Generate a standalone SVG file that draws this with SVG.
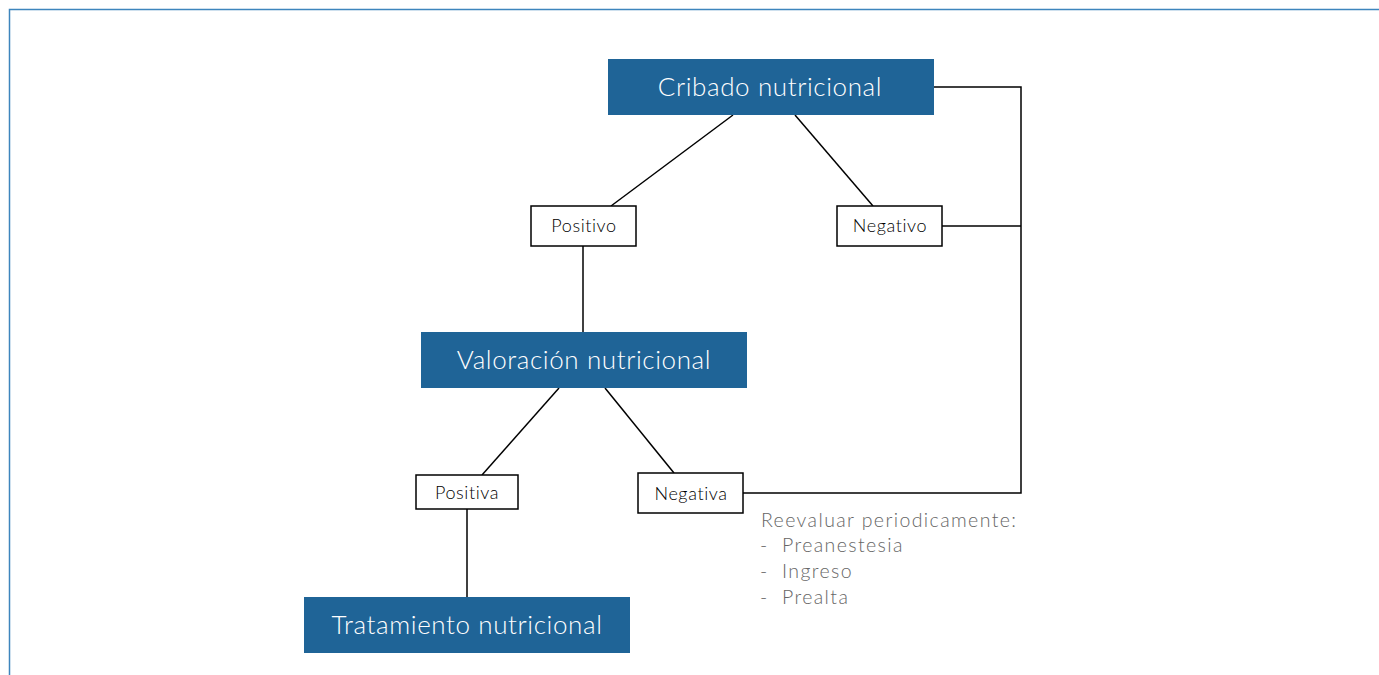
<svg xmlns="http://www.w3.org/2000/svg" width="1379" height="675" viewBox="0 0 1379 675">
<style>
.main rect{fill:#1f6497}
.main text{fill:#fff;font-family:Lato,"Open Sans",sans-serif;font-weight:300;font-size:26px;letter-spacing:0.6px;text-anchor:middle}
.lab rect{fill:#fff;stroke:#000;stroke-width:1.5}
.lab text{fill:#000;font-family:Lato,"Open Sans",sans-serif;font-weight:300;font-size:18px;letter-spacing:0.6px;text-anchor:middle}
.conn{stroke:#000;stroke-width:1.5;fill:none}
.note{fill:#666;font-family:Lato,"Open Sans",sans-serif;font-weight:300;font-size:19.5px;letter-spacing:1.4px}
</style>
<rect width="1379" height="675" fill="#fff"/>
<path d="M9.5,675 V9.5 H1379" fill="none" stroke="#3d85bd" stroke-width="1.5"/>
<g id="connectors" class="conn">
<line x1="733" y1="115" x2="611" y2="206"/>
<line x1="795" y1="115" x2="873" y2="206"/>
<line x1="583" y1="246" x2="583" y2="332"/>
<line x1="559" y1="388" x2="482" y2="475"/>
<line x1="605" y1="388" x2="674" y2="473"/>
<line x1="467" y1="509" x2="467" y2="597"/>
<polyline points="934,87 1021,87 1021,493 743,493"/>
<line x1="942" y1="226" x2="1021" y2="226"/>
</g>
<g id="cribado" class="main"><rect x="608" y="59" width="326" height="56"/><text x="770" y="96">Cribado nutricional</text></g>
<g id="positivo" class="lab"><rect x="531" y="206" width="105" height="40"/><text x="584" y="232">Positivo</text></g>
<g id="negativo" class="lab"><rect x="837" y="206" width="105" height="40"/><text x="890" y="232">Negativo</text></g>
<g id="valoracion" class="main"><rect x="421" y="332" width="326" height="56"/><text x="584" y="369">Valoración nutricional</text></g>
<g id="positiva" class="lab"><rect x="416" y="475" width="102" height="34"/><text x="467" y="499">Positiva</text></g>
<g id="negativa" class="lab"><rect x="638" y="473" width="105" height="40"/><text x="691" y="500">Negativa</text></g>
<g id="tratamiento" class="main"><rect x="304" y="597" width="326" height="56"/><text x="467" y="634">Tratamiento nutricional</text></g>
<g id="nota" class="note">
<text x="761" y="527">Reevaluar periodicamente:</text>
<text x="760" y="552">-</text><text x="782" y="552">Preanestesia</text>
<text x="760" y="578">-</text><text x="782" y="578">Ingreso</text>
<text x="760" y="604">-</text><text x="782" y="604">Prealta</text>
</g>
</svg>
